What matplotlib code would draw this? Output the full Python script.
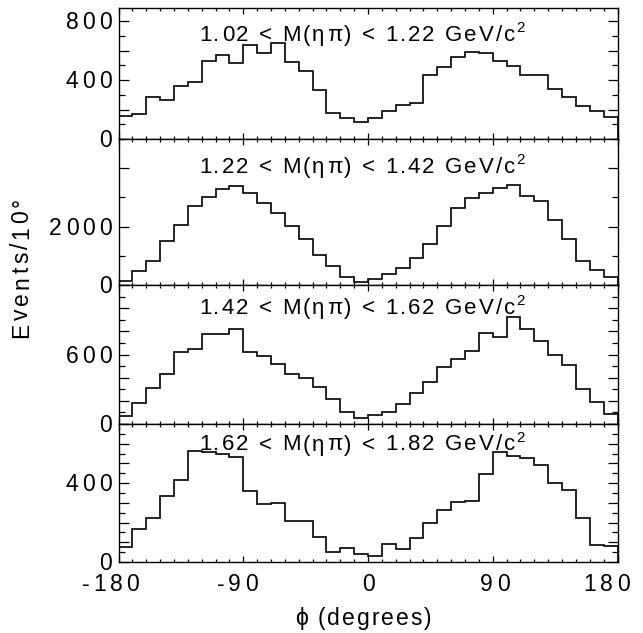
import numpy as np
import matplotlib
matplotlib.use("Agg")
import matplotlib.pyplot as plt
from matplotlib import font_manager as fm
from matplotlib.ft2font import FT2Font
from matplotlib.ticker import MultipleLocator, NullFormatter

# ---------------- data ----------------
phi_edges = np.arange(-180, 181, 10)

mass_ranges = [
    "1.02 < M(ηπ) < 1.22 GeV/c",
    "1.22 < M(ηπ) < 1.42 GeV/c",
    "1.42 < M(ηπ) < 1.62 GeV/c",
    "1.62 < M(ηπ) < 1.82 GeV/c",
]
unit_power = "2"

counts_102_122 = [158, 170, 282, 267, 359, 384, 527, 574, 515, 642, 581, 649,
                  522, 463, 332, 179, 142, 115, 142, 190, 228, 242, 438, 486,
                  554, 592, 583, 531, 493, 438, 438, 337, 287, 221, 190, 147]
counts_122_142 = [146, 472, 831, 1506, 2045, 2719, 3011, 3303, 3393, 3135, 2809, 2461,
                  2022, 1562, 1022, 652, 281, 112, 202, 360, 596, 921, 1404, 2022,
                  2652, 2989, 3157, 3326, 3427, 3034, 2888, 2213, 1562, 831, 506, 281]
counts_142_162 = [69, 184, 311, 429, 622, 648, 778, 778, 824, 622, 591, 519,
                  429, 398, 320, 216, 104, 55, 75, 107, 170, 268, 366, 490,
                  565, 631, 787, 749, 922, 824, 720, 597, 510, 300, 187, 89]
counts_162_182 = [78, 169, 222, 337, 414, 561, 556, 546, 531, 358, 292, 297,
                  208, 208, 125, 51, 71, 41, 29, 93, 68, 120, 198, 263,
                  302, 308, 444, 558, 539, 527, 490, 402, 363, 222, 86, 80]

all_counts = [counts_102_122, counts_122_142, counts_142_162, counts_162_182]

y_max = [890, 5000, 1200, 700]
y_major = [200, 2000, 200, 100]
y_minor = [100, 1000, 100, 50]
y_ticklabels = [[0, 400, 800], [0, 2000], [0, 600], [0, 400]]
x_ticklabels = [-180, -90, 0, 90, 180]

y_title = "Events/10°"
x_title = "ϕ (degrees)"

# ---------------- layout ----------------
W, H, DPI = 643, 633, 100
fig = plt.figure(figsize=(W / DPI, H / DPI), dpi=DPI)
fig.patch.set_facecolor("white")

left_px, right_px = 118.5, 617.5
panel_px = [8, 139, 285, 424, 562]
title_base_px = [33, 34, 29, 26.5]
PT = 72.0 / DPI  # points per pixel

FONT = "Liberation Sans"
_ft = FT2Font(fm.findfont(fm.FontProperties(family=FONT)))


def adv(c, size):
    _ft.set_size(size, 72)
    g = _ft.load_char(ord(c))
    return g.linearHoriAdvance / 65536.0


def spaced(ax, s, xy, xycoords, size, track, align="center", dx=0.0, dy=0.0, rotation=0):
    advs = [adv(c, size) for c in s]
    total = sum(advs) + track * (len(s) - 1)
    start = {"center": -total / 2, "right": -total, "left": 0.0}[align]
    pos = start
    for c, a in zip(s, advs):
        off = (dx, dy + pos) if rotation == 90 else (dx + pos, dy)
        ax.annotate(c, xy=xy, xycoords=xycoords, xytext=off, textcoords="offset points",
                    ha="left", va="baseline", rotation=rotation, rotation_mode="anchor",
                    fontsize=size, family=[FONT, "DejaVu Sans"], color="black",
                    annotation_clip=False)
        pos += a + track
    return dx + pos


TICK_SIZE = 16.5
TICK_TRACK = 2.8
cap = 0.716 * TICK_SIZE
TITLE_SIZE = 16.0
TITLE_TRACK = 1.5

axes = []
for i in range(4):
    top, bot = panel_px[i], panel_px[i + 1]
    ax = fig.add_axes([left_px / W, 1 - bot / H, (right_px - left_px) / W, (bot - top) / H])
    axes.append(ax)
    ax.stairs(all_counts[i], phi_edges, color="black", linewidth=1.2)
    ax.set_xlim(-180, 180)
    ax.set_ylim(0, y_max[i])
    ax.xaxis.set_major_locator(MultipleLocator(90))
    ax.xaxis.set_minor_locator(MultipleLocator(10))
    ax.yaxis.set_major_locator(MultipleLocator(y_major[i]))
    ax.yaxis.set_minor_locator(MultipleLocator(y_minor[i]))
    ax.xaxis.set_major_formatter(NullFormatter())
    ax.yaxis.set_major_formatter(NullFormatter())
    ax.tick_params(which="both", direction="in", top=True, right=True,
                   labelleft=False, labelbottom=False, width=0.9, color="black")
    ax.tick_params(axis="y", which="major", length=7.2)
    ax.tick_params(axis="y", which="minor", length=4.0)
    ax.tick_params(axis="x", which="major", length=4.0)
    ax.tick_params(axis="x", which="minor", length=2.2)
    for sp in ax.spines.values():
        sp.set_linewidth(1.0)
        sp.set_color("black")
    # y tick labels
    for v in y_ticklabels[i]:
        spaced(ax, str(v), (0, v), ("axes fraction", "data"), TICK_SIZE, TICK_TRACK,
               align="right", dx=-6.6 * PT, dy=-cap / 2)
    # panel title with superscript
    anchor = (199, H - (top + title_base_px[i]))
    end = spaced(ax, mass_ranges[i], anchor, "figure pixels", TITLE_SIZE, TITLE_TRACK,
                 align="left")
    spaced(ax, unit_power, anchor, "figure pixels", TITLE_SIZE * 0.68, 0,
           align="left", dx=end - TITLE_TRACK + 0.8, dy=0.40 * TITLE_SIZE)

# x tick labels on bottom panel
x_off_px = [-8, -6, 0, 2, -11]
for v, o in zip(x_ticklabels, x_off_px):
    spaced(axes[-1], str(v), (v, 0), ("data", "axes fraction"), TICK_SIZE, TICK_TRACK,
           align="center", dx=o * PT, dy=-29 * PT)

# axis titles
spaced(axes[-1], x_title, (363, 8), "figure pixels", TICK_SIZE, 1.4, align="center")
spaced(axes[-1], y_title, (28.3, H - 338), "figure pixels", TICK_SIZE, 2.3,
       align="left", rotation=90)

fig.savefig("out.png", dpi=DPI, facecolor="white")
